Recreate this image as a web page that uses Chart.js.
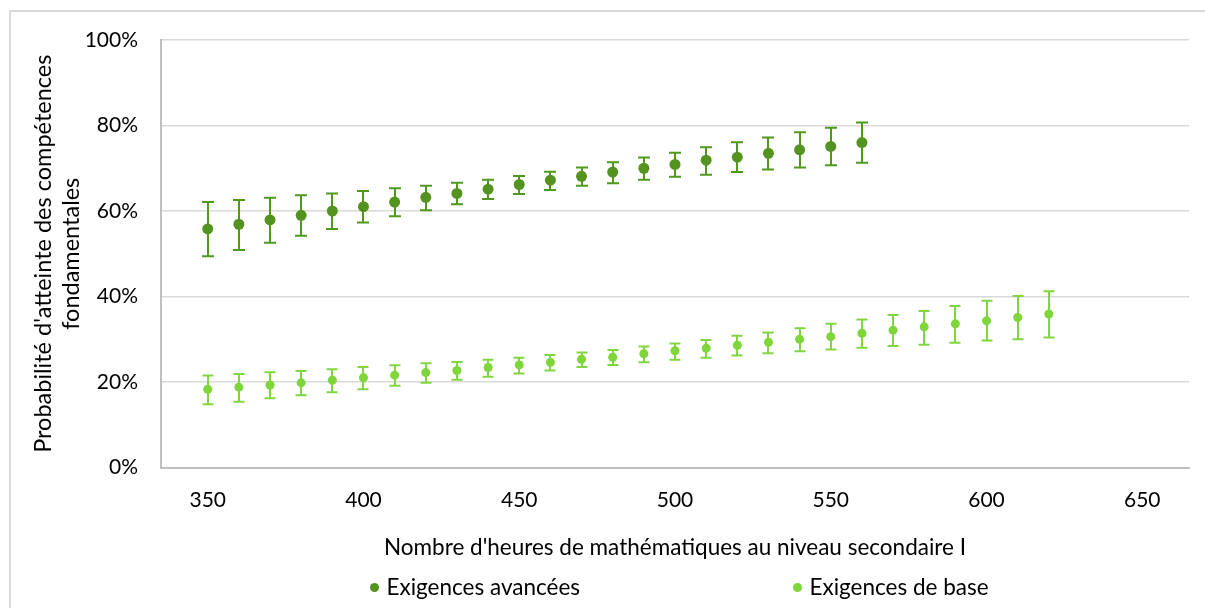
<!DOCTYPE html>
<html>
<head>
<meta charset="utf-8">
<script src="https://cdn.jsdelivr.net/npm/chart.js@4.4.1/dist/chart.umd.min.js"></script>
<style>
  html, body { margin: 0; padding: 0; background: #fff; overflow: hidden; }
  #wrap { position: relative; width: 1205px; height: 608px; }
  #frame { position: absolute; left: 9px; top: 10px; width: 1400px; height: 800px;
           border-left: 2px solid #d9d9d9; border-top: 2px solid #d9d9d9; }
  #c { position: absolute; left: 0; top: 0; }
  .leg { position: absolute; top: 572px; font-family: Lato, sans-serif; font-size: 22.5px; color: #000; white-space: nowrap; line-height: 30px; }
  .leg i { display: inline-block; width: 9px; height: 9px; border-radius: 50%; margin-right: 8px; vertical-align: middle; position: relative; top: -2px; }
</style>
</head>
<body>
<div id="wrap">
  <div id="frame"></div>
  <canvas id="c" width="1205" height="608"></canvas>
  <div class="leg" id="leg1" style="left:369.5px"></div>
  <div class="leg" id="leg2" style="left:792.5px"></div>
</div>
<script>
// ---- data ----
const seriesNames = ["Exigences avancées", "Exigences de base"];
const xTickValues = [350, 400, 450, 500, 550, 600, 650];
const yTickValues = [0, 20, 40, 60, 80, 100];

const hoursAdv = [350,360,370,380,390,400,410,420,430,440,450,460,470,480,490,500,510,520,530,540,550,560];
const advValue = [55.8,56.9,57.9,59.0,60.0,61.0,62.1,63.2,64.1,65.1,66.2,67.2,68.1,69.1,70.0,70.9,71.9,72.6,73.5,74.3,75.1,76.0];
const advLow   = [49.4,50.9,52.6,54.2,55.8,57.3,58.8,60.2,61.6,62.8,64.0,64.9,65.9,66.5,67.3,68.0,68.5,69.1,69.7,70.2,70.7,71.3];
const advHigh  = [62.1,62.6,63.1,63.7,64.1,64.7,65.3,65.9,66.6,67.3,68.2,69.2,70.2,71.4,72.5,73.6,74.9,76.1,77.2,78.4,79.5,80.7];

const hoursBase = [350,360,370,380,390,400,410,420,430,440,450,460,470,480,490,500,510,520,530,540,550,560,570,580,590,600,610,620];
const baseValue = [18.3,18.8,19.3,19.8,20.4,21.0,21.6,22.2,22.7,23.4,24.0,24.6,25.3,25.8,26.6,27.3,27.9,28.6,29.3,30.0,30.6,31.4,32.1,32.9,33.6,34.3,35.1,35.9];
const baseLow   = [14.8,15.4,16.2,16.9,17.6,18.3,19.1,19.8,20.5,21.2,22.0,22.7,23.5,24.0,24.6,25.2,25.7,26.2,26.7,27.2,27.6,28.0,28.4,28.7,29.2,29.7,30.0,30.4];
const baseHigh  = [21.5,21.9,22.3,22.6,23.0,23.5,23.9,24.4,24.7,25.2,25.7,26.3,26.9,27.5,28.3,29.0,29.8,30.8,31.6,32.6,33.6,34.6,35.7,36.6,37.8,39.0,40.1,41.2];

const xTitle = "Nombre d'heures de mathématiques au niveau secondaire I";
const yTitle = ["Probabilité d'atteinte des compétences", "fondamentales"];

// ---- styles ----
const darkPoint = '#54931f', darkBar = '#4f9a1c';
const lightPoint = '#7ed63a', lightBar = '#80d640';
const FONT = 'Lato';

function pts(xs, ys, lo, hi) {
  return xs.map((x, i) => ({ x: x, y: ys[i], lo: lo[i], hi: hi[i] }));
}

const errorBars = {
  id: 'errorBars',
  beforeDatasetsDraw(chart) {
    const { ctx, scales: { x, y } } = chart;
    chart.data.datasets.forEach((ds, di) => {
      const meta = chart.getDatasetMeta(di);
      if (meta.hidden) return;
      ctx.save();
      ctx.strokeStyle = ds.errorColor;
      ctx.lineWidth = 2;
      const half = ds.capHalf;
      ds.data.forEach(p => {
        const px = Math.round(x.getPixelForValue(p.x));
        const yl = y.getPixelForValue(p.lo);
        const yh = y.getPixelForValue(p.hi);
        ctx.beginPath();
        ctx.moveTo(px, yl); ctx.lineTo(px, yh);
        ctx.moveTo(px - half, yl); ctx.lineTo(px + half, yl);
        ctx.moveTo(px - half, yh); ctx.lineTo(px + half, yh);
        ctx.stroke();
      });
      ctx.restore();
    });
  }
};

const chart = new Chart(document.getElementById('c'), {
  type: 'scatter',
  data: {
    datasets: [
      { label: seriesNames[0], data: pts(hoursAdv, advValue, advLow, advHigh),
        backgroundColor: darkPoint, borderColor: darkPoint, pointRadius: 5.5, borderWidth: 0,
        errorColor: darkBar, capHalf: 6 },
      { label: seriesNames[1], data: pts(hoursBase, baseValue, baseLow, baseHigh),
        backgroundColor: lightPoint, borderColor: lightPoint, pointRadius: 4.5, borderWidth: 0,
        errorColor: lightBar, capHalf: 5.5 }
    ]
  },
  options: {
    responsive: false,
    animation: false,
    events: [],
    layout: { padding: { left: 0, top: 40, right: 16, bottom: 0 } },
    plugins: { legend: { display: false }, tooltip: { enabled: false } },
    scales: {
      x: {
        type: 'linear', min: 335, max: 665,
        afterBuildTicks: s => { s.ticks = xTickValues.map(v => ({ value: v })); },
        afterFit: s => { s.height = 140.5; },
        grid: { display: false, drawTicks: false },
        border: { display: true, color: '#bfbfbf', width: 2 },
        ticks: { padding: 20, color: '#000', font: { family: FONT, size: 21 }, maxRotation: 0, autoSkip: false },
        title: { display: true, text: xTitle, color: '#000', font: { family: FONT, size: 22.5, lineHeight: 1.2 },
                 padding: { top: 0, bottom: 47 } }
      },
      y: {
        min: 0, max: 100,
        afterBuildTicks: s => { s.ticks = yTickValues.map(v => ({ value: v })); },
        afterFit: s => { s.width = 161; },
        grid: { color: '#d9d9d9', lineWidth: 1.5, drawTicks: false },
        border: { display: true, color: '#bfbfbf', width: 2 },
        ticks: { padding: 23, color: '#000', font: { family: FONT, size: 21 }, callback: v => v + '%' },
        title: { display: true, text: yTitle, color: '#000', font: { family: FONT, size: 23.5, lineHeight: 1.2 },
                 padding: { top: 29, bottom: 0 } }
      }
    }
  },
  plugins: [errorBars]
});

// HTML legend built from the chart's datasets
[['leg1', 0], ['leg2', 1]].forEach(([id, i]) => {
  const el = document.getElementById(id);
  const ds = chart.data.datasets[i];
  el.innerHTML = '<i style="background:' + ds.backgroundColor + '"></i>' + ds.label;
});
</script>
</body>
</html>
